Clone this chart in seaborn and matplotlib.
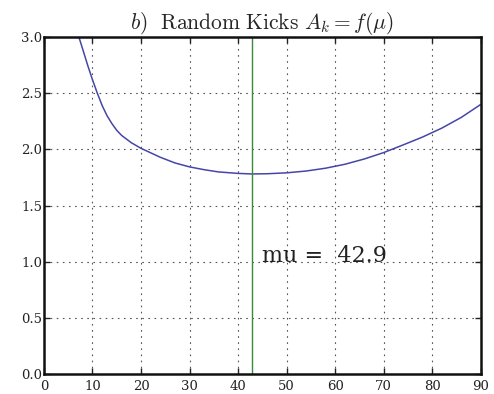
import numpy as np
import pandas as pd
import matplotlib
matplotlib.use("Agg")
import matplotlib.pyplot as plt
import seaborn as sns

# Amplitude of random kicks as a function of mu
mu_values = [7.2, 8, 9, 10, 11, 12, 13, 14, 15, 16, 18, 20, 22, 24, 27, 30, 33, 36, 40, 42.9,
             46, 50, 54, 58, 62, 66, 70, 74, 78, 82, 86, 90]
amplitude = [3.0, 2.89, 2.75, 2.62, 2.50, 2.39, 2.30, 2.23, 2.17, 2.125, 2.06, 2.01, 1.97, 1.93,
             1.88, 1.845, 1.82, 1.80, 1.787, 1.782, 1.784, 1.792, 1.808, 1.833, 1.868, 1.915,
             1.972, 2.04, 2.11, 2.19, 2.285, 2.40]
mu_opt = 42.9

x_ticks = [0, 10, 20, 30, 40, 50, 60, 70, 80, 90]
y_ticks = [0.0, 0.5, 1.0, 1.5, 2.0, 2.5, 3.0]

sns.set_style("ticks")
plt.rcParams["font.family"] = ["DejaVu Serif"]
plt.rcParams["mathtext.fontset"] = "cm"

df = pd.DataFrame({"mu": mu_values, "A": amplitude})

fig = plt.figure(figsize=(4.94, 3.94), dpi=100)
ax = fig.add_axes([0.089, 0.05, 0.884, 0.856])

sns.lineplot(data=df, x="mu", y="A", ax=ax, color="#4646a8", linewidth=1.1, sort=True)
ax.axvline(mu_opt, color="#3a8a3a", linewidth=1.0)
ax.text(mu_opt + 2, 1.0, "mu = %5.1f" % mu_opt, fontsize=16, color="#222222")

ax.set_xlim(0, 90)
ax.set_ylim(0, 3.0)
ax.set_xticks(x_ticks)
ax.set_yticks(y_ticks)
ax.set_xticklabels([str(v) for v in x_ticks])
ax.set_yticklabels(["%.1f" % v for v in y_ticks])
ax.set_xlabel("")
ax.set_ylabel("")

ax.grid(True, color="#555555", linestyle=(0, (1.5, 4)), linewidth=0.8)
ax.tick_params(direction="in", length=4, width=1, top=True, right=True,
               labelsize=9.5, colors="#222222")
ax.tick_params(axis="y", pad=1)
ax.tick_params(axis="x", pad=4)
for s in ax.spines.values():
    s.set_linewidth(1.8)
    s.set_color("#111111")

ax.set_title(r"$b)\ \ \mathrm{Random\ Kicks}\ A_k = f(\mu)$", fontsize=15.5, pad=6)

fig.savefig("out.png", dpi=100)
